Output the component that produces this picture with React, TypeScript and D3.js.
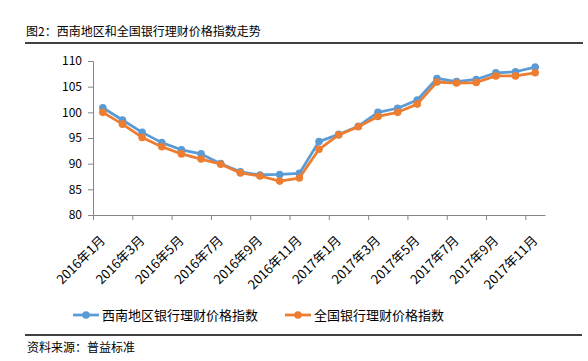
import * as d3 from 'd3';
import {useEffect, useRef} from 'react';

const months = [
	'2016年1月', '2016年2月', '2016年3月', '2016年4月', '2016年5月', '2016年6月',
	'2016年7月', '2016年8月', '2016年9月', '2016年10月', '2016年11月', '2016年12月',
	'2017年1月', '2017年2月', '2017年3月', '2017年4月', '2017年5月', '2017年6月',
	'2017年7月', '2017年8月', '2017年9月', '2017年10月', '2017年11月',
];

const southwest = [
	100.9, 98.5, 96.1, 94.1, 92.7, 91.9, 90.0, 88.4, 87.8, 87.9, 88.1, 94.3,
	95.7, 97.3, 100.0, 100.8, 102.4, 106.6, 106.0, 106.4, 107.7, 107.9, 108.8,
];

const national = [
	100.0, 97.7, 95.1, 93.3, 91.9, 90.9, 89.9, 88.2, 87.6, 86.6, 87.2, 92.8,
	95.6, 97.2, 99.2, 100.0, 101.6, 105.9, 105.7, 105.8, 107.1, 107.1, 107.7,
];

const yTicks = [80, 85, 90, 95, 100, 105, 110];

const seriesNames = ['西南地区银行理财价格指数', '全国银行理财价格指数'];
const colors = ['#5b9bd5', '#ed7d31'];

const width = 588;
const height = 361;
const font = '"Noto Sans CJK SC", "Liberation Sans", sans-serif';

export default function App() {
	const svgRef = useRef(null);

	const margin = {top: 61, right: 43, bottom: 146, left: 93};
	const innerWidth = width - margin.left - margin.right;
	const innerHeight = height - margin.top - margin.bottom;

	useEffect(() => {
		const svg = d3.select(svgRef.current);
		svg.selectAll('*').remove();

		svg.append('rect').attr('width', width).attr('height', height).attr('fill', '#fff');

		// title + rules
		svg
			.append('text')
			.attr('x', 26)
			.attr('y', 32)
			.attr('dy', '0.35em')
			.style('font-family', font)
			.style('font-size', '12px')
			.style('fill', '#000')
			.text('图2：西南地区和全国银行理财价格指数走势');
		svg.append('line').attr('x1', 25).attr('x2', 583).attr('y1', 43).attr('y2', 43).attr('stroke', '#000').attr('stroke-width', 1.3);
		svg.append('line').attr('x1', 25).attr('x2', 582).attr('y1', 335).attr('y2', 335).attr('stroke', '#000').attr('stroke-width', 1.3);
		svg
			.append('text')
			.attr('x', 27)
			.attr('y', 348)
			.attr('dy', '0.35em')
			.style('font-family', font)
			.style('font-size', '12px')
			.style('fill', '#000')
			.text('资料来源：普益标准');

		const chart = svg.append('g').attr('transform', `translate(${margin.left},${margin.top})`);

		const xScale = d3.scaleBand().domain(months).range([0, innerWidth]).padding(0);
		const xIndex = d3.scaleLinear().domain([0, months.length]).range([0, innerWidth]);
		const yScale = d3.scaleLinear().domain([80, 110]).range([innerHeight, 0]);

		const yAxis = chart
			.append('g')
			.call(d3.axisLeft(yScale).tickValues(yTicks).tickSize(5).tickPadding(6));
		yAxis.select('.domain').attr('stroke', '#868686');
		yAxis.selectAll('.tick line').attr('stroke', '#868686');
		yAxis.selectAll('.tick text').style('font-family', font).style('font-size', '12px').style('fill', '#000');

		const xAxis = chart
			.append('g')
			.attr('transform', `translate(0,${innerHeight})`)
			.call(
				d3
					.axisBottom(xIndex)
					.tickValues(d3.range(0, months.length, 2))
					.tickSize(5)
					.tickSizeOuter(0)
					.tickFormat(() => ''),
			);
		xAxis.select('.domain').attr('stroke', '#868686');
		xAxis.selectAll('.tick line').attr('stroke', '#868686');

		chart
			.append('g')
			.selectAll('text')
			.data(months.filter((_, i) => i % 2 === 0))
			.join('text')
			.attr('transform', (d) => `translate(${xScale(d)! + xScale.bandwidth() / 2},${innerHeight + 23}) rotate(-45)`)
			.attr('text-anchor', 'end')
			.attr('dy', '0.35em')
			.style('font-family', font)
			.style('font-size', '13px')
			.style('fill', '#000')
			.text((d) => d);

		const line = d3
			.line<number>()
			.x((_, i) => xScale(months[i])! + xScale.bandwidth() / 2)
			.y((d) => yScale(d));

		[southwest, national].forEach((values, s) => {
			const g = chart.append('g');
			g.append('path')
				.datum(values)
				.attr('d', line)
				.attr('fill', 'none')
				.attr('stroke', colors[s])
				.attr('stroke-width', 2.75)
				.attr('stroke-linejoin', 'round');
			g.selectAll('circle')
				.data(values)
				.join('circle')
				.attr('cx', (_, i) => xScale(months[i])! + xScale.bandwidth() / 2)
				.attr('cy', (d) => yScale(d))
				.attr('r', 3.8)
				.attr('fill', colors[s]);
		});

		// legend
		const legendX = [73, 285];
		const legend = svg
			.selectAll('.legend')
			.data(seriesNames)
			.join('g')
			.attr('class', 'legend')
			.attr('transform', (_, i) => `translate(${legendX[i]},315)`);
		legend
			.append('line')
			.attr('x1', 0)
			.attr('x2', 26)
			.attr('stroke', (_, i) => colors[i])
			.attr('stroke-width', 2.75);
		legend
			.append('circle')
			.attr('cx', 13)
			.attr('r', 3.8)
			.attr('fill', (_, i) => colors[i]);
		legend
			.append('text')
			.attr('x', 29)
			.attr('dy', '0.35em')
			.style('font-family', font)
			.style('font-size', '13px')
			.style('fill', '#000')
			.text((d) => d);
	}, []);

	return (
		<svg
			ref={svgRef}
			width={width}
			height={height}
			style={{position: 'absolute', left: 0, top: 0, display: 'block'}}
		/>
	);
}
